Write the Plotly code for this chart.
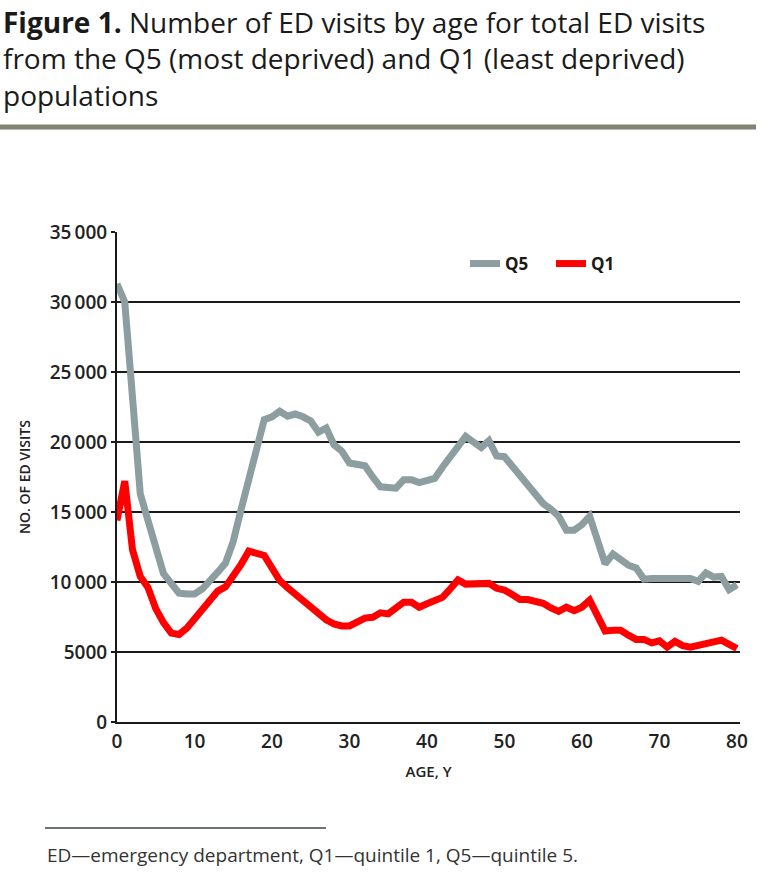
import plotly.graph_objects as go

# ---------------- data ----------------
ages = list(range(0, 81))

q5_visits = [
    31300, 30000, 23200, 16300, 14400, 12500, 10600, 9900, 9200, 9150,
    9150, 9500, 10050, 10700, 11350, 12900, 15150, 17400, 19650, 21600,
    21800, 22200, 21850, 22000, 21800, 21500, 20700, 21000, 19800, 19350,
    18500, 18400, 18300, 17500, 16800, 16750, 16700, 17300, 17300, 17100,
    17250, 17400, 18200, 19000, 19700, 20400, 20000, 19600, 20100, 19000,
    18950, 18300, 17600, 17000, 16300, 15600, 15200, 14700, 13700, 13700,
    14100, 14700, 13000, 11300, 12000, 11600, 11200, 11000, 10200, 10250,
    10250, 10300, 10350, 10300, 10250, 10050, 10650, 10350, 10400, 9450,
    9800,
]

q1_visits = [
    14400, 17200, 12300, 10400, 9600, 8100, 7100, 6350, 6250, 6700,
    7350, 8030, 8700, 9350, 9650, 10400, 11250, 12200, 12100, 11900,
    11000, 10100, 9600, 9130, 8640, 8150, 7650, 7300, 7000, 6860,
    6860, 7100, 7420, 7480, 7800, 7720, 8150, 8550, 8550, 8200,
    8450, 8650, 8900, 9500, 10150, 9850, 9870, 9880, 9900, 9550,
    9430, 9100, 8750, 8750, 8650, 8480, 8150, 7900, 8200, 7950,
    8200, 8700, 7600, 6500, 6550, 6550, 6200, 5900, 5900, 5650,
    5800, 5350, 5750, 5450, 5350, 5450, 5550, 5650, 5850, 5550,
    5250,
]

series_names = ["Q5", "Q1"]
series_colors = ["#8c9e9f", "#ff0000"]

y_tickvals = [0, 5000, 10000, 15000, 20000, 25000, 30000, 35000]
y_ticktext = ["0", "5000", "10\u2009000", "15\u2009000", "20\u2009000",
              "25\u2009000", "30\u2009000", "35\u2009000"]
x_tickvals = [0, 10, 20, 30, 40, 50, 60, 70, 80]

title_lines = [
    "<b>Figure 1.</b> Number of ED visits by age for total ED visits",
    "from the Q5 (most deprived) and Q1 (least deprived)",
    "populations",
]
footnote = "ED\u2014emergency department, Q1\u2014quintile 1, Q5\u2014quintile 5."

# ---------------- layout geometry ----------------
W, H = 773, 880
L, R, T, B = 117, 33, 232, 158
PW, PH = W - L - R, H - T - B

def px(xp):
    return (xp - L) / PW

def py(yp):
    return (H - B - yp) / PH

TXTF = "Open Sans, Liberation Sans, sans-serif"
TICKF = "Open Sans, Liberation Sans, sans-serif"

fig = go.Figure()
for name, vals, col in zip(series_names, [q5_visits, q1_visits], series_colors):
    fig.add_trace(go.Scatter(
        x=ages, y=vals, mode="lines", name=name,
        line=dict(color=col, width=7),
    ))

annotations = []
title_y = [22, 58, 95]
for txt, yy in zip(title_lines, title_y):
    annotations.append(dict(
        text=txt, xref="paper", yref="paper", x=px(1), y=py(yy),
        xanchor="left", yanchor="middle", showarrow=False,
        font=dict(family=TXTF, size=28, color="#1a1a1a"),
    ))
annotations.append(dict(
    text=footnote, xref="paper", yref="paper", x=px(45), y=py(855),
    xanchor="left", yanchor="middle", showarrow=False,
    font=dict(family=TXTF, size=19, color="#333333"),
))

shapes = [
    dict(type="line", xref="paper", yref="paper", x0=px(0), x1=px(756),
         y0=py(127), y1=py(127), line=dict(color="#7f8572", width=5)),
    dict(type="line", xref="paper", yref="paper", x0=px(45), x1=px(326),
         y0=py(828), y1=py(828), line=dict(color="#6e7474", width=2)),
]

fig.update_layout(
    width=W, height=H,
    margin=dict(l=L, r=R, t=T, b=B, pad=0),
    paper_bgcolor="white", plot_bgcolor="white",
    showlegend=True,
    legend=dict(orientation="h", x=px(465), y=py(264), xanchor="left", yanchor="middle",
                font=dict(family=TICKF, size=17, color="#1a1a1a", weight="bold"),
                bgcolor="rgba(0,0,0,0)", itemwidth=30, tracegroupgap=0,
                entrywidth=41, entrywidthmode="pixels"),
    annotations=annotations,
    shapes=shapes,
    xaxis=dict(
        range=[0, 80.4], tickvals=x_tickvals, showgrid=False, zeroline=False,
        showline=True, linecolor="#1a1a1a", linewidth=2, ticks="",
        ticklabelstandoff=1,
        tickfont=dict(family=TICKF, size=19, color="#222222", weight=600),
        title=dict(text="AGE, Y", standoff=14,
                   font=dict(family=TICKF, size=15, color="#222222", weight=600)),
    ),
    yaxis=dict(
        range=[0, 35000], tickvals=y_tickvals, ticktext=y_ticktext,
        showgrid=True, gridcolor="#1a1a1a", gridwidth=2, zeroline=False,
        showline=True, linecolor="#1a1a1a", linewidth=2,
        ticks="outside", ticklen=4, tickcolor="#1a1a1a", tickwidth=2,
        tickfont=dict(family=TICKF, size=19, color="#222222", weight=600),
        title=dict(text="NO. OF ED VISITS", standoff=16,
                   font=dict(family=TICKF, size=14, color="#222222", weight=600)),
    ),
)

fig.write_html("out.html", config={"displayModeBar": False},
               post_script="document.body.style.margin='0';document.body.style.padding='0';")
